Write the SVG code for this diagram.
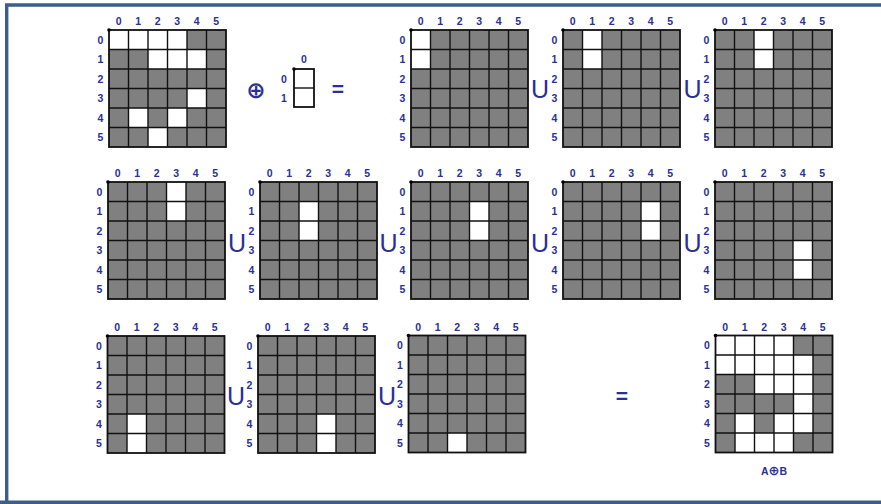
<svg xmlns="http://www.w3.org/2000/svg" xmlns:xlink="http://www.w3.org/1999/xlink" width="881" height="504" viewBox="0 0 881 504">
<style>
.lbl{font-family:"Liberation Sans",Arial,sans-serif;font-weight:bold;font-size:10.5px;fill:#2b2f96;text-anchor:middle}
.op{font-family:"Liberation Sans",Arial,sans-serif;font-size:25px;fill:#2b2f96;text-anchor:middle}
.eq{font-family:"Liberation Sans",Arial,sans-serif;font-weight:bold;font-size:21px;fill:#2b2f96;text-anchor:middle}
.bg{fill:#808080}
.w{fill:#ffffff}
.gl{fill:none;stroke:#111;stroke-width:1.4}
.ob{fill:none;stroke:#111;stroke-width:1.8}
</style>
<defs>
<g id="lines">
<path class="gl" d="M19.5 0V117M39 0V117M58.5 0V117M78 0V117M97.5 0V117M0 19.5H117M0 39H117M0 58.5H117M0 78H117M0 97.5H117"/>
<rect class="ob" x="0" y="0" width="117" height="117"/>
<circle cx="0" cy="0" r="1.8" fill="#000"/>
</g>
<g id="labels">
<text class="lbl" x="9.75" y="-5">0</text><text class="lbl" x="29.25" y="-5">1</text><text class="lbl" x="48.75" y="-5">2</text><text class="lbl" x="68.25" y="-5">3</text><text class="lbl" x="87.75" y="-5">4</text><text class="lbl" x="107.25" y="-5">5</text>
<text class="lbl" x="-8.5" y="13.5">0</text><text class="lbl" x="-8.5" y="33">1</text><text class="lbl" x="-8.5" y="52.5">2</text><text class="lbl" x="-8.5" y="72">3</text><text class="lbl" x="-8.5" y="91.5">4</text><text class="lbl" x="-8.5" y="111">5</text>
</g>
</defs>
<rect x="0" y="0" width="881" height="504" fill="#ffffff"/>
<path d="M6.7 504V5H890M0 502.3H890" fill="none" stroke="#3b5e8c" stroke-width="3.4"/>

<!-- Row 1 -->
<g id="gridA" transform="translate(109,30)">
<rect class="bg" width="117" height="117"/>
<rect class="w" x="0" y="0" width="78" height="19.5"/>
<rect class="w" x="39" y="19.5" width="58.5" height="19.5"/>
<rect class="w" x="78" y="58.5" width="19.5" height="19.5"/>
<rect class="w" x="19.5" y="78" width="19.5" height="19.5"/>
<rect class="w" x="58.5" y="78" width="19.5" height="19.5"/>
<rect class="w" x="39" y="97.5" width="19.5" height="19.5"/>
<use xlink:href="#lines"/><use xlink:href="#labels"/>
</g>
<g id="oplus"><text class="op" x="256" y="98" style="font-family:'DejaVu Sans',sans-serif;font-size:23px;font-weight:bold">⊕</text></g>
<g id="gridB" transform="translate(294,69)">
<rect class="w" width="20" height="38"/>
<path class="gl" d="M0 19H20"/>
<rect class="ob" width="20" height="38"/>
<circle r="1.8" fill="#000"/>
<text class="lbl" x="10" y="-6.5">0</text>
<text class="lbl" x="-10" y="13.5">0</text>
<text class="lbl" x="-10" y="32.5">1</text>
</g>
<g id="eq1"><text class="eq" x="338" y="96">=</text></g>
<g id="r1g1" transform="translate(411,30)">
<rect class="bg" width="117" height="117"/>
<rect class="w" x="0" y="0" width="19.5" height="39"/>
<use xlink:href="#lines"/><use xlink:href="#labels"/>
</g>
<g id="u1"><text class="op" x="540" y="98">U</text></g>
<g id="r1g2" transform="translate(563,30)">
<rect class="bg" width="117" height="117"/>
<rect class="w" x="19.5" y="0" width="19.5" height="39"/>
<use xlink:href="#lines"/><use xlink:href="#labels"/>
</g>
<g id="u2"><text class="op" x="692.5" y="98">U</text></g>
<g id="r1g3" transform="translate(715,30)">
<rect class="bg" width="117" height="117"/>
<rect class="w" x="39" y="0" width="19.5" height="39"/>
<use xlink:href="#lines"/><use xlink:href="#labels"/>
</g>

<!-- Row 2 -->
<g id="r2g1" transform="translate(108,182)">
<rect class="bg" width="117" height="117"/>
<rect class="w" x="58.5" y="0" width="19.5" height="39"/>
<use xlink:href="#lines"/><use xlink:href="#labels"/>
</g>
<g id="u3"><text class="op" x="237" y="252">U</text></g>
<g id="r2g2" transform="translate(260,182)">
<rect class="bg" width="117" height="117"/>
<rect class="w" x="39" y="19.5" width="19.5" height="39"/>
<use xlink:href="#lines"/><use xlink:href="#labels"/>
</g>
<g id="u4"><text class="op" x="388.5" y="252">U</text></g>
<g id="r2g3" transform="translate(411,182)">
<rect class="bg" width="117" height="117"/>
<rect class="w" x="58.5" y="19.5" width="19.5" height="39"/>
<use xlink:href="#lines"/><use xlink:href="#labels"/>
</g>
<g id="u5"><text class="op" x="540" y="252">U</text></g>
<g id="r2g4" transform="translate(563,182)">
<rect class="bg" width="117" height="117"/>
<rect class="w" x="78" y="19.5" width="19.5" height="39"/>
<use xlink:href="#lines"/><use xlink:href="#labels"/>
</g>
<g id="u6"><text class="op" x="692.5" y="252">U</text></g>
<g id="r2g5" transform="translate(715,182)">
<rect class="bg" width="117" height="117"/>
<rect class="w" x="78" y="58.5" width="19.5" height="39"/>
<use xlink:href="#lines"/><use xlink:href="#labels"/>
</g>

<!-- Row 3 -->
<g id="r3g1" transform="translate(107.5,336)">
<rect class="bg" width="117" height="117"/>
<rect class="w" x="19.5" y="78" width="19.5" height="39"/>
<use xlink:href="#lines"/><use xlink:href="#labels"/>
</g>
<g id="u7"><text class="op" x="236" y="405">U</text></g>
<g id="r3g2" transform="translate(258,336)">
<rect class="bg" width="117" height="117"/>
<rect class="w" x="58.5" y="78" width="19.5" height="39"/>
<use xlink:href="#lines"/><use xlink:href="#labels"/>
</g>
<g id="u8"><text class="op" x="387" y="405">U</text></g>
<g id="r3g3" transform="translate(408.5,335.5)">
<rect class="bg" width="117" height="117"/>
<rect class="w" x="39" y="97.5" width="19.5" height="19.5"/>
<use xlink:href="#lines"/><use xlink:href="#labels"/>
</g>
<g id="eq2"><text class="eq" x="622" y="403">=</text></g>
<g id="result" transform="translate(715.5,335.5)">
<rect class="bg" width="117" height="117"/>
<rect class="w" x="0" y="0" width="78" height="19.5"/>
<rect class="w" x="0" y="19.5" width="97.5" height="19.5"/>
<rect class="w" x="39" y="39" width="58.5" height="19.5"/>
<rect class="w" x="78" y="58.5" width="19.5" height="19.5"/>
<rect class="w" x="19.5" y="78" width="19.5" height="19.5"/>
<rect class="w" x="58.5" y="78" width="39" height="19.5"/>
<rect class="w" x="19.5" y="97.5" width="58.5" height="19.5"/>
<use xlink:href="#lines"/><use xlink:href="#labels"/>
</g>
<g id="caption"><text class="lbl" x="774" y="475">A<tspan style="font-family:'DejaVu Sans',sans-serif;font-size:13px">⊕</tspan>B</text></g>
</svg>
